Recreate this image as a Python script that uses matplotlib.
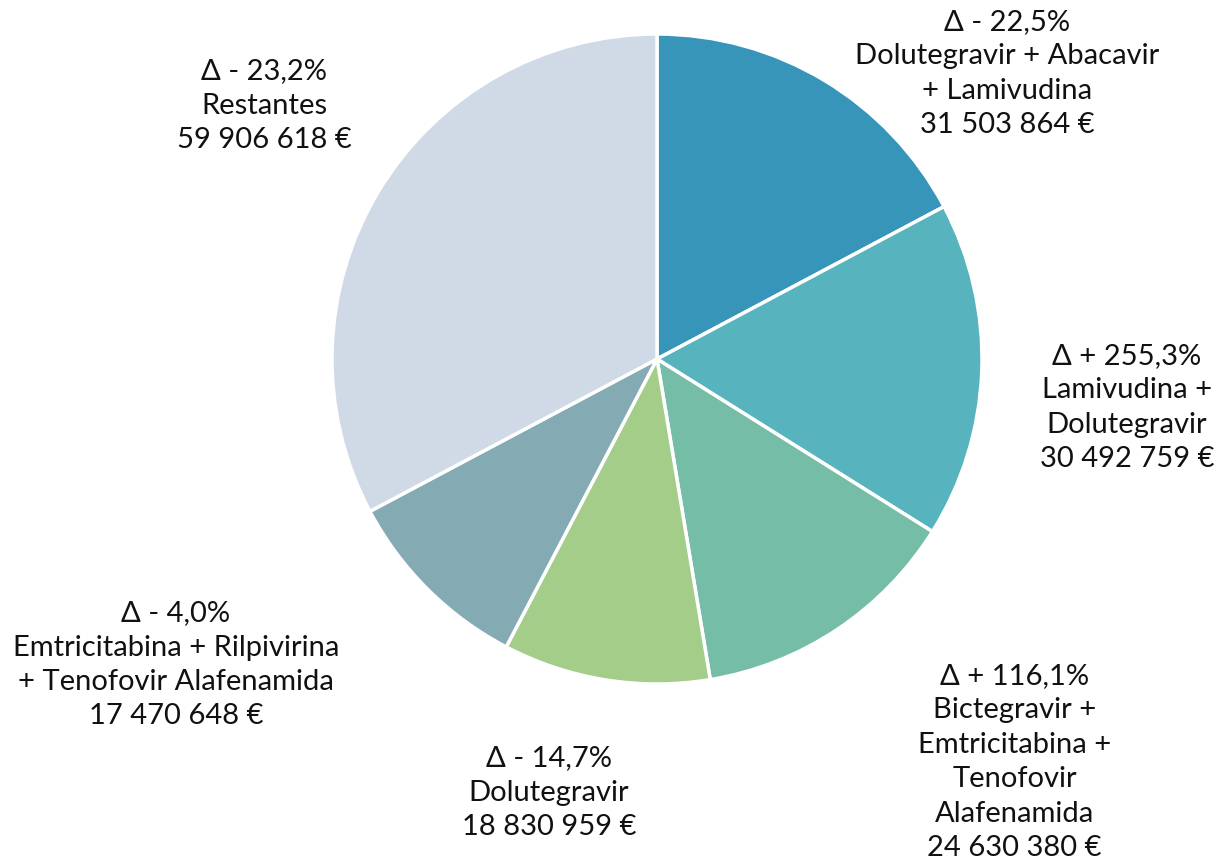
import matplotlib.pyplot as plt

names = ["Dolutegravir + Abacavir\n+ Lamivudina",
         "Lamivudina +\nDolutegravir",
         "Bictegravir +\nEmtricitabina +\nTenofovir\nAlafenamida",
         "Dolutegravir",
         "Emtricitabina + Rilpivirina\n+ Tenofovir Alafenamida",
         "Restantes"]
values = [31503864, 30492759, 24630380, 18830959, 17470648, 59906618]
deltas = ["- 22,5%", "+ 255,3%", "+ 116,1%", "- 14,7%", "- 4,0%", "- 23,2%"]
colors = ["#3795BA", "#57B4BF", "#76BDA8", "#A3CD88", "#84AAB4", "#CFDAE6"]

# label centres in pie-radius units
label_pos = [(1.077, 0.882), (1.446, -0.146), (1.10, -1.237),
             (-0.332, -1.331), (-1.48, -0.938), (-1.209, 0.782)]


def fmt(v):
    return f"{v:,}".replace(",", " ") + " €"


fig = plt.figure(figsize=(12.23, 8.62), dpi=100)
ax = fig.add_axes([332 / 1223, 177 / 862, 650 / 1223, 650 / 862])
plt.rcParams["font.family"] = ["Lato", "DejaVu Sans"]

ax.pie(values, colors=colors, startangle=90, counterclock=False, radius=1,
       wedgeprops=dict(edgecolor="white", linewidth=2.5))
ax.set_xlim(-1, 1)
ax.set_ylim(-1, 1)
ax.set_aspect("equal")
ax.axis("off")

for name, v, d, (x, y) in zip(names, values, deltas, label_pos):
    txt = "\u0394 " + d + "\n" + name + "\n" + fmt(v)
    ax.text(x, y, txt, ha="center", va="center", multialignment="center",
            fontsize=21, linespacing=1.4, color="#111111", clip_on=False)

plt.savefig("out.png", dpi=100)
